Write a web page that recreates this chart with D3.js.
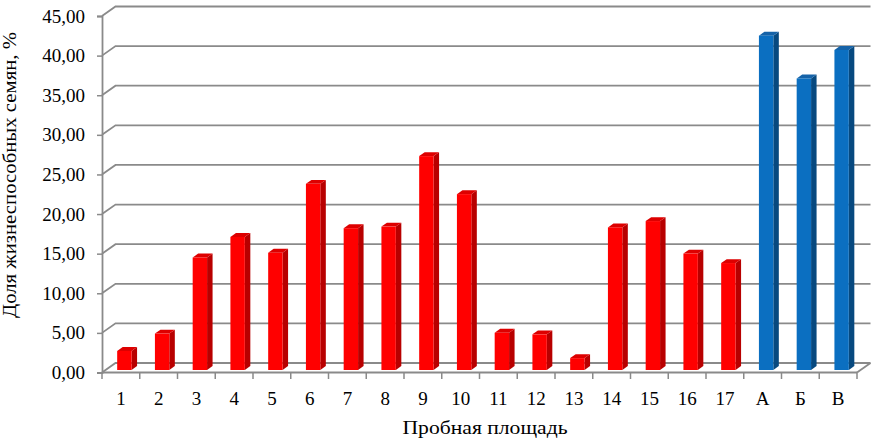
<!DOCTYPE html>
<html>
<head>
<meta charset="utf-8">
<script src="https://cdn.jsdelivr.net/npm/d3@7"></script>
<style>
  body { margin: 0; background: #fff; }
  text { font-family: "Liberation Serif", "Times New Roman", serif; fill: #000; }
</style>
</head>
<body>
<svg id="chart" width="877" height="440"></svg>
<script>
// chart data
var categories = ["1","2","3","4","5","6","7","8","9","10","11","12","13","14","15","16","17","А","Б","В"];
var values = [2.4, 4.6, 14.2, 16.8, 14.8, 23.5, 17.9, 18.1, 27.0, 22.2, 4.7, 4.5, 1.5, 18.0, 18.8, 14.7, 13.5, 42.2, 36.8, 40.4];
var groups = ["plot","plot","plot","plot","plot","plot","plot","plot","plot","plot","plot","plot","plot","plot","plot","plot","plot","control","control","control"];
var yTicks = [0, 5, 10, 15, 20, 25, 30, 35, 40, 45];
var yTitle = "Доля жизнеспособных семян, %";
var xTitle = "Пробная площадь";

var svg = d3.select('#chart');

// 3d depth of the plot box
var depthX = 13.5, depthY = -9.5;
// bars sit a little behind the front plane
var barShiftX = 3.5, barShiftY = -2.5;
var barW = 14.4, barDX = 5.5, barDY = -3.9;

var xScale = d3.scaleBand().domain(categories).range([102, 857]);
var yScale = d3.scaleLinear().domain([0, 45]).range([372.5, 16]);

var colors = {
    plot: {front: '#ff0000', side: '#b80000', top: '#dd0000'},
    control: {front: '#0b6fc1', side: '#07497f', top: '#1663a8'}
};
var gridColor = '#8a8a8a';

var grid = svg.append('g');

// side wall + back wall gridlines
yTicks.forEach(function(t) {
    var yf = yScale(t);
    grid.append('polyline')
        .attr('points', [[102, yf], [102 + depthX, yf + depthY], [857 + depthX, yf + depthY]].join(' '))
        .attr('fill', 'none')
        .attr('stroke', gridColor)
        .attr('stroke-width', 1.8);
});

// floor edges
grid.append('line')
    .attr('x1', 102).attr('y1', yScale(0))
    .attr('x2', 857).attr('y2', yScale(0))
    .attr('stroke', gridColor).attr('stroke-width', 1.8);
grid.append('line')
    .attr('x1', 857).attr('y1', yScale(0))
    .attr('x2', 857 + depthX).attr('y2', yScale(0) + depthY)
    .attr('stroke', gridColor).attr('stroke-width', 1.8);

// y axis (front)
var yAxisG = svg.append('g').attr('transform', 'translate(102,0)');
yAxisG.call(d3.axisLeft(yScale).tickValues(yTicks).tickSize(5).tickPadding(12)
    .tickFormat(function(d) { return d3.format('.2f')(d).replace('.', ','); }));
yAxisG.attr('font-family', null);
yAxisG.select('.domain').attr('stroke', gridColor).attr('stroke-width', 1.8);
yAxisG.selectAll('.tick line').attr('stroke', gridColor).attr('stroke-width', 1.5);
yAxisG.selectAll('.tick text')
    .attr('font-size', 19)
    .attr('fill', '#000');

// x axis ticks at category borders
var xAxisG = svg.append('g');
var borders = categories.map(function(c) { return xScale(c); }).concat([857]);
xAxisG.selectAll('line.tk').data(borders).enter().append('line')
    .attr('class', 'tk')
    .attr('x1', function(d) { return d; }).attr('x2', function(d) { return d; })
    .attr('y1', yScale(0)).attr('y2', yScale(0) + 6.5)
    .attr('stroke', gridColor).attr('stroke-width', 1.5);
xAxisG.selectAll('text.lbl').data(categories).enter().append('text')
    .attr('class', 'lbl')
    .attr('x', function(d) { return xScale(d) + xScale.bandwidth() / 2; })
    .attr('y', 405)
    .attr('text-anchor', 'middle')
    .attr('font-size', 19)
    .text(function(d) { return d; });

// bars
var bars = svg.selectAll('.bar').data(categories).enter()
    .append('g').attr('class', 'bar');

bars.each(function(c, i) {
    var g = d3.select(this);
    var col = colors[groups[i]];
    var xl = xScale(c) + xScale.bandwidth() / 2 + barShiftX - barW / 2;
    var xr = xl + barW;
    var yb = yScale(0) + barShiftY;
    var yt = yScale(values[i]) + barShiftY;
    g.append('polygon')
        .attr('points', [[xr, yt], [xr + barDX, yt + barDY], [xr + barDX, yb + barDY], [xr, yb]].join(' '))
        .attr('fill', col.side);
    g.append('polygon')
        .attr('points', [[xl, yt], [xl + barDX, yt + barDY], [xr + barDX, yt + barDY], [xr, yt]].join(' '))
        .attr('fill', col.top);
    g.append('rect')
        .attr('x', xl).attr('y', yt)
        .attr('width', barW).attr('height', yb - yt)
        .attr('fill', col.front);
});

// axis titles
svg.append('text')
    .attr('transform', 'translate(16,175) rotate(-90)')
    .attr('text-anchor', 'middle')
    .attr('font-size', 19)
    .attr('textLength', 286)
    .attr('lengthAdjust', 'spacingAndGlyphs')
    .text(yTitle);

svg.append('text')
    .attr('x', 485).attr('y', 434)
    .attr('text-anchor', 'middle')
    .attr('font-size', 19)
    .attr('textLength', 165)
    .attr('lengthAdjust', 'spacingAndGlyphs')
    .text(xTitle);
</script>
</body>
</html>
